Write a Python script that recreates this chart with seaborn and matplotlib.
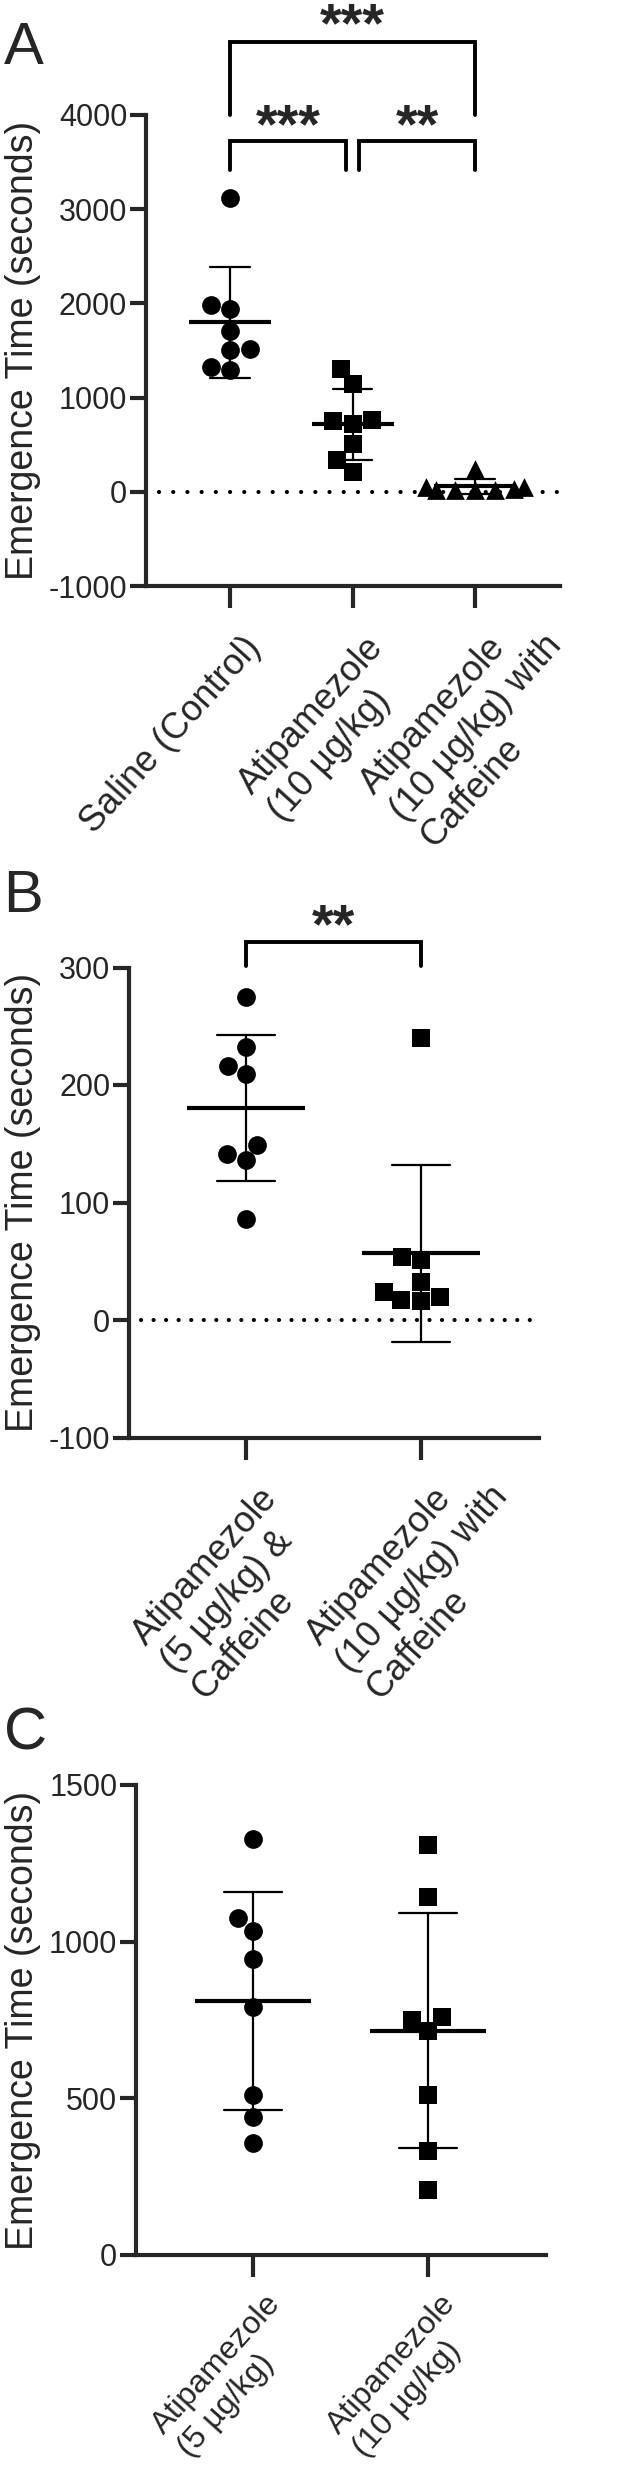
import numpy as np
import pandas as pd
import matplotlib
matplotlib.use('Agg')
import matplotlib.pyplot as plt
import seaborn as sns
from matplotlib.transforms import blended_transform_factory, ScaledTranslation

# 데이터 (Emergence time, seconds)
saline = [3115, 1987, 1937, 1709, 1519, 1500, 1330, 1292]
atip10 = [1307, 1144, 759, 750, 716, 510, 333, 208]
atip10_caf = [240, 54, 51, 32, 24, 20, 17, 16]
atip5_caf = [275, 232, 216, 209, 149, 141, 136, 86]
atip5 = [1329, 1075, 1035, 946, 790, 510, 442, 356]

labels_a = ['Saline (Control)', 'Atipamezole\n(10 µg/kg)', 'Atipamezole\n(10 µg/kg) with\nCaffeine']
labels_b = ['Atipamezole\n(5 µg/kg) &\nCaffeine', 'Atipamezole\n(10 µg/kg) with\nCaffeine']
labels_c = ['Atipamezole\n(5 µg/kg)', 'Atipamezole\n(10 µg/kg)']

sns.set_style('ticks')
plt.rcParams['font.family'] = ['Liberation Sans', 'DejaVu Sans']
plt.rcParams['axes.unicode_minus'] = False

W, H = 642, 2480
fig = plt.figure(figsize=(W / 100, H / 100), dpi=100)


def px_axes(left, top, right, bottom):
    return fig.add_axes([left / W, 1 - bottom / H, (right - left) / W, (bottom - top) / H])


def draw_panel(ax, labels, values, markers, mean_w, cap):
    groups = [str(i) for i in range(len(labels))]
    df = pd.DataFrame({'group': np.repeat(groups, [len(v) for v in values]),
                       'time': np.concatenate(values)})
    for g, m in zip(groups, markers):
        sns.swarmplot(data=df[df.group == g], x='group', y='time', order=groups,
                      marker=m, color='black', size=13.5, ax=ax)
    sns.pointplot(data=df, x='group', y='time', order=groups, errorbar='sd',
                  capsize=cap, color='black', marker='_', markersize=mean_w,
                  markeredgewidth=3.0, linestyle='none',
                  err_kws={'linewidth': 1.6}, ax=ax)


def style_axes(ax, xlim, ylim, yticks, left, right):
    ax.set_xlim(xlim)
    ax.set_ylim(ylim)
    ax.set_yticks(yticks)
    ax.set_xticks(range(int(np.ceil(xlim[1]))))
    ax.set_xticklabels([])
    ax.set_xlabel('')
    ax.set_ylabel('Emergence Time (seconds)', fontsize=27)
    ax.yaxis.set_label_coords((41 - left) / (right - left), 0.5)
    sns.despine(ax=ax)
    for s in ['left', 'bottom']:
        ax.spines[s].set_linewidth(3)
    ax.tick_params(axis='y', length=11.5, width=3, labelsize=22, pad=2)
    ax.tick_params(axis='x', length=16, width=3)


def put_labels(ax, labels, dx=12, dy=-44, rot=48, size=26):
    base = blended_transform_factory(ax.transData, ax.transAxes)
    r = fig.canvas.get_renderer()
    for i, lab in enumerate(labels):
        t1 = ax.text(0, 0, lab.split('\n')[0], fontsize=size)
        w1 = t1.get_window_extent(r).width
        t1.remove()
        t2 = ax.text(0, 0, lab, fontsize=size)
        w = t2.get_window_extent(r).width
        t2.remove()
        d = w - w1
        ox = dx + d * np.cos(np.radians(rot))
        oy = dy + d * np.sin(np.radians(rot))
        off = ScaledTranslation(ox / 100, oy / 100, fig.dpi_scale_trans)
        ax.text(i, 0, lab, transform=base + off, rotation=rot, rotation_mode='anchor',
                ha='right', va='top', multialignment='left', fontsize=size, clip_on=False)


def bracket(ax, x0, x1, ytop, ybot, lw=2.8):
    ax.plot([x0, x0, x1, x1], [ybot, ytop, ytop, ybot], color='black', lw=lw,
            clip_on=False, solid_joinstyle='miter')


def stars(ax, x, y, s):
    ax.text(x, y, s, ha='center', va='center', fontsize=40, fontweight='bold', clip_on=False)


# A
axA = px_axes(146, 115, 560, 586)
draw_panel(axA, labels_a, [saline, atip10, atip10_caf], ['o', 's', '^'], 59, 0.32)
style_axes(axA, (-0.686, 2.694), (-1000, 4000), range(-1000, 4001, 1000), 146, 560)
axA.axhline(0, xmin=0.031, color='black', lw=3, ls=(0, (0.01, 3.4)), dash_capstyle='round', zorder=0)
bracket(axA, 0, 0.947, 3724, 3416)
bracket(axA, 1.053, 2, 3724, 3416)
bracket(axA, 0, 2, 4775, 4000)
stars(axA, 0.474, 3860, '***')
stars(axA, 1.53, 3860, '**')
stars(axA, 1.0, 4930, '***')

# B
axB = px_axes(129, 967.5, 539, 1437.5)
draw_panel(axB, labels_b, [atip5_caf, atip10_caf], ['o', 's'], 85, 0.33)
style_axes(axB, (-0.669, 1.674), (-100, 300), range(-100, 301, 100), 129, 539)
axB.axhline(0, xmin=0.03, color='black', lw=3, ls=(0, (0.01, 3.0)), dash_capstyle='round', zorder=0)
bracket(axB, 0, 1, 322, 301)
stars(axB, 0.5, 333, '**')

# C
axC = px_axes(136, 1785, 546, 2255)
draw_panel(axC, labels_c, [atip5, atip10], ['o', 's'], 84, 0.33)
style_axes(axC, (-0.669, 1.674), (0, 1500), range(0, 1501, 500), 136, 546)

fig.canvas.draw()
put_labels(axA, labels_a)
put_labels(axB, labels_b)
put_labels(axC, labels_c, dy=-34, size=23)

fig.text(4 / W, 1 - 64 / H, 'A', fontsize=43, va='baseline')
fig.text(3 / W, 1 - 912 / H, 'B', fontsize=43, va='baseline')
fig.text(4 / W, 1 - 1750 / H, 'C', fontsize=43, va='baseline')

fig.savefig('out.png', dpi=100)
